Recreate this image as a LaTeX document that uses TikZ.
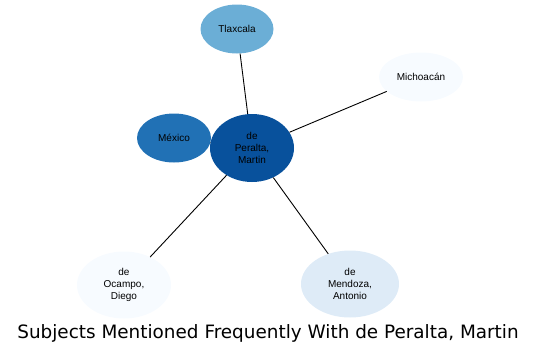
\documentclass[tikz,border=0pt]{standalone}
\usepackage{fontspec}
\setmainfont{Liberation Sans}
\newfontfamily\titlefont{DejaVu Sans}
\usetikzlibrary{shapes.geometric}
\definecolor{blueA}{RGB}{247,251,255}
\definecolor{blueB}{RGB}{222,235,247}
\definecolor{blueC}{RGB}{107,174,214}
\definecolor{blueD}{RGB}{33,113,181}
\definecolor{blueE}{RGB}{8,81,156}

\begin{document}
\begin{tikzpicture}[
  x=1pt, y=-1pt,
  every node/.style={font=\fontsize{10}{11.7}\selectfont},
  subj/.style={ellipse, inner sep=0pt, align=center, text=black},
  link/.style={draw=black, line width=0.9pt}
]
  % Canvas (541 x 354, y grows downwards)
  \useasboundingbox (0,0) rectangle (541,354);

  % Central subject
  \node[subj, fill=blueE, minimum width=84pt, minimum height=68pt] (peralta) at (252,148) {de\\Peralta,\\Martin};

  % Related subjects
  \node[subj, fill=blueC, minimum width=73pt, minimum height=49pt] (tlaxcala) at (237,29) {Tlaxcala};
  \node[subj, fill=blueA, minimum width=84pt, minimum height=49pt] (michoacan) at (421,77) {Michoacán};
  \node[subj, fill=blueD, minimum width=74pt, minimum height=49pt] (mexico) at (174,138) {México};
  \node[subj, fill=blueA, minimum width=94pt, minimum height=67pt] (ocampo) at (124,285) {de\\Ocampo,\\Diego};
  \node[subj, fill=blueB, minimum width=98pt, minimum height=67pt] (mendoza) at (350,284) {de\\Mendoza,\\Antonio};

  % Links
  \draw[link] (peralta) -- (tlaxcala);
  \draw[link] (peralta) -- (michoacan);
  \draw[link] (peralta) -- (mexico);
  \draw[link] (peralta) -- (ocampo);
  \draw[link] (peralta) -- (mendoza);

  % Title
  \node[font=\titlefont\fontsize{18.4}{20}\selectfont] (title) at (268,333) {Subjects Mentioned Frequently With de Peralta, Martin};
\end{tikzpicture}
\end{document}
